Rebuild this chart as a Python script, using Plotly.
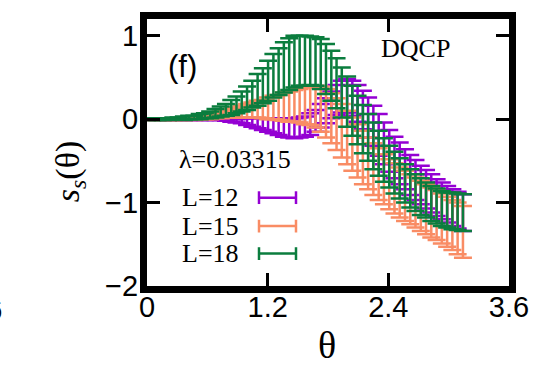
import plotly.graph_objects as go

# Sample angles (rad)
theta = [0.000, 0.052, 0.105, 0.157, 0.209, 0.262, 0.314, 0.367, 0.419, 0.471,
         0.524, 0.576, 0.628, 0.681, 0.733, 0.785, 0.838, 0.890, 0.942, 0.995,
         1.047, 1.100, 1.152, 1.204, 1.257, 1.309, 1.361, 1.414, 1.466, 1.518,
         1.571, 1.623, 1.676, 1.728, 1.780, 1.833, 1.885, 1.937, 1.990, 2.042,
         2.094, 2.147, 2.199, 2.251, 2.304, 2.356, 2.409, 2.461, 2.513, 2.566,
         2.618, 2.670, 2.723, 2.775, 2.827, 2.880, 2.932, 2.985, 3.037, 3.089,
         3.142]

# L = 12
s12 = [0.00, 0.00, 0.00, 0.00, 0.00, 0.00, 0.00, 0.00, 0.00, 0.00,
       0.00, 0.00, 0.00, 0.00, 0.00, -0.01, -0.01, -0.02, -0.02, -0.03,
       -0.04, -0.05, -0.06, -0.07, -0.08, -0.09, -0.10, -0.11, -0.11, -0.10,
       -0.09, -0.06, -0.02, 0.04, 0.10, 0.17, 0.23, 0.27, 0.28, 0.25,
       0.19, 0.11, 0.02, -0.08, -0.19, -0.29, -0.38, -0.46, -0.53, -0.60,
       -0.67, -0.73, -0.79, -0.84, -0.89, -0.94, -0.98, -1.02, -1.06, -1.09,
       -1.12]
e12 = [0.01, 0.01, 0.01, 0.01, 0.01, 0.01, 0.01, 0.01, 0.01, 0.01,
       0.01, 0.01, 0.01, 0.01, 0.01, 0.01, 0.02, 0.02, 0.03, 0.04,
       0.05, 0.06, 0.07, 0.08, 0.09, 0.10, 0.11, 0.11, 0.12, 0.12,
       0.12, 0.13, 0.13, 0.14, 0.15, 0.16, 0.18, 0.19, 0.20, 0.21,
       0.22, 0.23, 0.24, 0.24, 0.25, 0.25, 0.25, 0.25, 0.25, 0.24,
       0.24, 0.24, 0.23, 0.23, 0.23, 0.22, 0.22, 0.22, 0.22, 0.22,
       0.22]

# L = 15
s15 = [0.00, 0.00, 0.00, 0.00, 0.00, 0.00, 0.00, 0.00, 0.01, 0.01,
       0.02, 0.02, 0.03, 0.04, 0.05, 0.06, 0.07, 0.08, 0.09, 0.10,
       0.11, 0.12, 0.12, 0.13, 0.14, 0.14, 0.15, 0.15, 0.16, 0.16,
       0.16, 0.16, 0.15, 0.12, 0.07, 0.01, -0.06, -0.14, -0.22, -0.30,
       -0.38, -0.46, -0.53, -0.60, -0.66, -0.72, -0.78, -0.83, -0.88, -0.92,
       -0.96, -1.00, -1.04, -1.08, -1.12, -1.15, -1.19, -1.23, -1.27, -1.31,
       -1.35]
e15 = [0.01, 0.01, 0.01, 0.01, 0.01, 0.01, 0.01, 0.01, 0.01, 0.02,
       0.02, 0.02, 0.03, 0.03, 0.04, 0.04, 0.05, 0.06, 0.07, 0.08,
       0.09, 0.10, 0.11, 0.13, 0.14, 0.15, 0.17, 0.18, 0.19, 0.20,
       0.22, 0.23, 0.25, 0.27, 0.29, 0.30, 0.31, 0.32, 0.32, 0.32,
       0.32, 0.32, 0.31, 0.31, 0.31, 0.30, 0.30, 0.30, 0.30, 0.30,
       0.30, 0.30, 0.30, 0.30, 0.30, 0.30, 0.30, 0.30, 0.30, 0.31,
       0.31]

# L = 18
s18 = [0.00, 0.00, 0.00, 0.00, 0.00, 0.01, 0.01, 0.01, 0.02, 0.02,
       0.03, 0.04, 0.05, 0.07, 0.09, 0.11, 0.14, 0.17, 0.21, 0.25,
       0.30, 0.35, 0.40, 0.46, 0.52, 0.57, 0.62, 0.66, 0.69, 0.70,
       0.70, 0.70, 0.69, 0.66, 0.60, 0.52, 0.43, 0.32, 0.21, 0.10,
       -0.01, -0.12, -0.22, -0.32, -0.41, -0.49, -0.57, -0.64, -0.71, -0.77,
       -0.83, -0.88, -0.93, -0.97, -1.01, -1.04, -1.07, -1.09, -1.10, -1.11,
       -1.12]
e18 = [0.01, 0.01, 0.01, 0.01, 0.01, 0.01, 0.01, 0.02, 0.02, 0.02,
       0.03, 0.03, 0.04, 0.05, 0.06, 0.07, 0.09, 0.10, 0.12, 0.14,
       0.16, 0.19, 0.21, 0.24, 0.26, 0.28, 0.30, 0.31, 0.31, 0.30,
       0.30, 0.29, 0.29, 0.30, 0.30, 0.30, 0.30, 0.30, 0.30, 0.30,
       0.29, 0.29, 0.28, 0.28, 0.27, 0.26, 0.25, 0.25, 0.24, 0.23,
       0.23, 0.22, 0.22, 0.21, 0.21, 0.21, 0.21, 0.21, 0.22, 0.22,
       0.22]

labels = ["L=12", "L=15", "L=18"]
colors = ["#9400d3", "#f98c64", "#0b7d3e"]
x_ticks = [0, 1.2, 2.4, 3.6]
x_ticktext = ["0", "1.2", "2.4", "3.6"]
y_ticks = [-2, -1, 0, 1]
y_ticktext = ["\u22122", "\u22121", "0", "1"]

W, H = 556, 366
L_PX, R_PX, T_PX, B_PX = 147, 509, 14, 286

def px(x):
    return (x - L_PX) / (R_PX - L_PX)

def py(y):
    return (B_PX - y) / (B_PX - T_PX)

fig = go.Figure()
for s, e, c, name in zip([s12, s15, s18], [e12, e15, e18], colors, labels):
    fig.add_trace(go.Scatter(
        x=theta, y=s, mode="markers", name=name,
        marker=dict(size=1, color=c, opacity=0),
        error_y=dict(type="data", array=e, visible=True,
                     color=c, thickness=2.5, width=9),
        showlegend=False,
    ))

serif = "Liberation Serif"
sans = "Liberation Sans"

axis_common = dict(
    showline=True, linecolor="black", linewidth=7, mirror="allticks",
    ticks="inside", ticklen=13, tickwidth=3, tickcolor="black",
    showgrid=False, zeroline=False,
    tickfont=dict(family=sans, size=29, color="black"),
)

fig.update_xaxes(range=[0, 3.6], tickvals=x_ticks, ticktext=x_ticktext,
                 ticklabelstandoff=-11, **axis_common)
fig.update_yaxes(range=[-2, 1.2], tickvals=y_ticks, ticktext=y_ticktext,
                 ticklabelstandoff=-4, **axis_common)

annotations = [
    dict(x=px(182), y=py(62), text="(f)", font=dict(family=sans, size=31, color="black")),
    dict(x=px(415), y=py(44), text="DQCP", font=dict(family=serif, size=26, color="black")),
    dict(x=px(235), y=py(157), text="\u03bb=0.03315", font=dict(family=serif, size=26, color="black")),
    dict(x=px(327), y=py(346), text="\u03b8", font=dict(family=serif, size=38, color="black")),
    dict(x=px(70), y=py(170), text="<i>s</i><sub><i>s</i></sub>(\u03b8)", textangle=-90,
         font=dict(family=serif, size=34, color="black")),
    dict(x=px(4), y=py(310), text="3.6", xanchor="right",
         font=dict(family=sans, size=29, color="black")),
]

shapes = []
legend_y = [196, 225, 253]
for name, c, yy in zip(labels, colors, legend_y):
    annotations.append(dict(x=px(241), y=py(yy), text=name, xanchor="right",
                            font=dict(family=serif, size=26, color="black")))
    line = dict(color=c, width=2.5)
    shapes.append(dict(type="line", xref="paper", yref="paper",
                       x0=px(259), x1=px(296), y0=py(yy), y1=py(yy), line=line))
    for xe in (259, 296):
        shapes.append(dict(type="line", xref="paper", yref="paper",
                           x0=px(xe), x1=px(xe), y0=py(yy - 6.5), y1=py(yy + 6.5), line=line))

for a in annotations:
    a.setdefault("xref", "paper")
    a.setdefault("yref", "paper")
    a.setdefault("xanchor", "center")
    a.setdefault("yanchor", "middle")
    a.setdefault("showarrow", False)

fig.update_layout(
    width=W, height=H,
    margin=dict(l=L_PX, r=W - R_PX, t=T_PX, b=H - B_PX),
    paper_bgcolor="white", plot_bgcolor="white",
    annotations=annotations, shapes=shapes,
)

fig.write_html("out.html")
